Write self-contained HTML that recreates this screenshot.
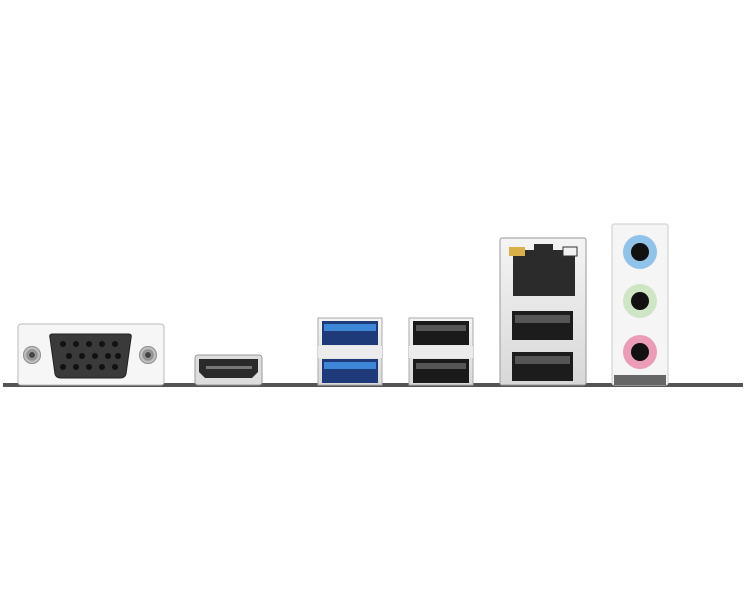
<!DOCTYPE html>
<html><head><style>html,body{margin:0;padding:0;background:#fff;width:745px;height:610px;overflow:hidden}</style></head>
<body>
<svg width="745" height="610" viewBox="0 0 745 610" xmlns="http://www.w3.org/2000/svg">
<defs>
<linearGradient id="silver" x1="0" y1="0" x2="0" y2="1"><stop offset="0" stop-color="#f4f4f4"/><stop offset="1" stop-color="#d8d8d8"/></linearGradient>
<radialGradient id="screw"><stop offset="0" stop-color="#eee"/><stop offset="0.5" stop-color="#888"/><stop offset="0.8" stop-color="#ccc"/><stop offset="1" stop-color="#777"/></radialGradient>
</defs>
<!-- base line -->
<rect x="3" y="383" width="740" height="4" fill="#555"/>
<!-- VGA plate -->
<rect x="18" y="324" width="146" height="61" rx="3" fill="#f6f6f6" stroke="#bbb"/>
<circle cx="32" cy="355" r="9" fill="url(#screw)"/><circle cx="32" cy="355" r="3" fill="#444"/>
<circle cx="148" cy="355" r="9" fill="url(#screw)"/><circle cx="148" cy="355" r="3" fill="#444"/>
<path d="M52 334 H129 Q132 334 131 338 L126 374 Q125 378 120 378 H61 Q56 378 55 374 L50 338 Q49 334 52 334Z" fill="#3a3a3a" stroke="#222"/>
<g fill="#111">
<circle cx="63" cy="344" r="3"/><circle cx="76" cy="344" r="3"/><circle cx="89" cy="344" r="3"/><circle cx="102" cy="344" r="3"/><circle cx="115" cy="344" r="3"/>
<circle cx="69" cy="356" r="3"/><circle cx="82" cy="356" r="3"/><circle cx="95" cy="356" r="3"/><circle cx="108" cy="356" r="3"/><circle cx="118" cy="356" r="3"/>
<circle cx="63" cy="367" r="3"/><circle cx="76" cy="367" r="3"/><circle cx="89" cy="367" r="3"/><circle cx="102" cy="367" r="3"/><circle cx="115" cy="367" r="3"/>
</g>
<!-- HDMI -->
<rect x="195" y="355" width="67" height="30" rx="3" fill="#ddd" stroke="#999"/>
<path d="M199 359 H258 V372 L252 378 H205 L199 372Z" fill="#2a2a2a"/>
<rect x="206" y="366" width="46" height="3" fill="#777"/>
<!-- USB3 -->
<rect x="318" y="318" width="64" height="67" fill="url(#silver)" stroke="#aaa"/>
<rect x="322" y="321" width="56" height="24" fill="#1e3a78"/>
<rect x="324" y="324" width="52" height="7" fill="#3e86d6"/>
<rect x="322" y="359" width="56" height="24" fill="#1e3a78"/>
<rect x="324" y="362" width="52" height="7" fill="#3e86d6"/>
<rect x="318" y="346" width="64" height="12" fill="#ececec"/>
<!-- USB2 -->
<rect x="409" y="318" width="64" height="67" fill="url(#silver)" stroke="#aaa"/>
<rect x="413" y="321" width="56" height="24" fill="#1a1a1a"/>
<rect x="416" y="325" width="50" height="6" fill="#555"/>
<rect x="413" y="359" width="56" height="24" fill="#1a1a1a"/>
<rect x="416" y="363" width="50" height="6" fill="#555"/>
<rect x="409" y="346" width="64" height="12" fill="#ececec"/>
<!-- LAN + USB -->
<rect x="500" y="238" width="86" height="147" rx="2" fill="url(#silver)" stroke="#999"/>
<path d="M513 250 H534 V244 H553 V250 H575 V296 H513Z" fill="#2b2b2b"/>
<rect x="509" y="247" width="16" height="9" fill="#d7b04a"/>
<rect x="563" y="247" width="14" height="9" fill="#f2f2f2" stroke="#333"/>
<rect x="512" y="311" width="61" height="29" fill="#1c1c1c"/>
<rect x="515" y="315" width="55" height="8" fill="#555"/>
<rect x="512" y="352" width="61" height="29" fill="#1c1c1c"/>
<rect x="515" y="356" width="55" height="8" fill="#555"/>
<!-- Audio -->
<rect x="612" y="224" width="56" height="161" rx="2" fill="#f5f5f5" stroke="#ccc"/>
<rect x="614" y="375" width="52" height="10" fill="#666"/>
<circle cx="640" cy="252" r="17" fill="#8fc3e8"/><circle cx="640" cy="252" r="9" fill="#111"/>
<circle cx="640" cy="301" r="17" fill="#cfe6c6"/><circle cx="640" cy="301" r="9" fill="#111"/>
<circle cx="640" cy="352" r="17" fill="#ec9cb6"/><circle cx="640" cy="352" r="9" fill="#111"/>
</svg>
</body></html>
